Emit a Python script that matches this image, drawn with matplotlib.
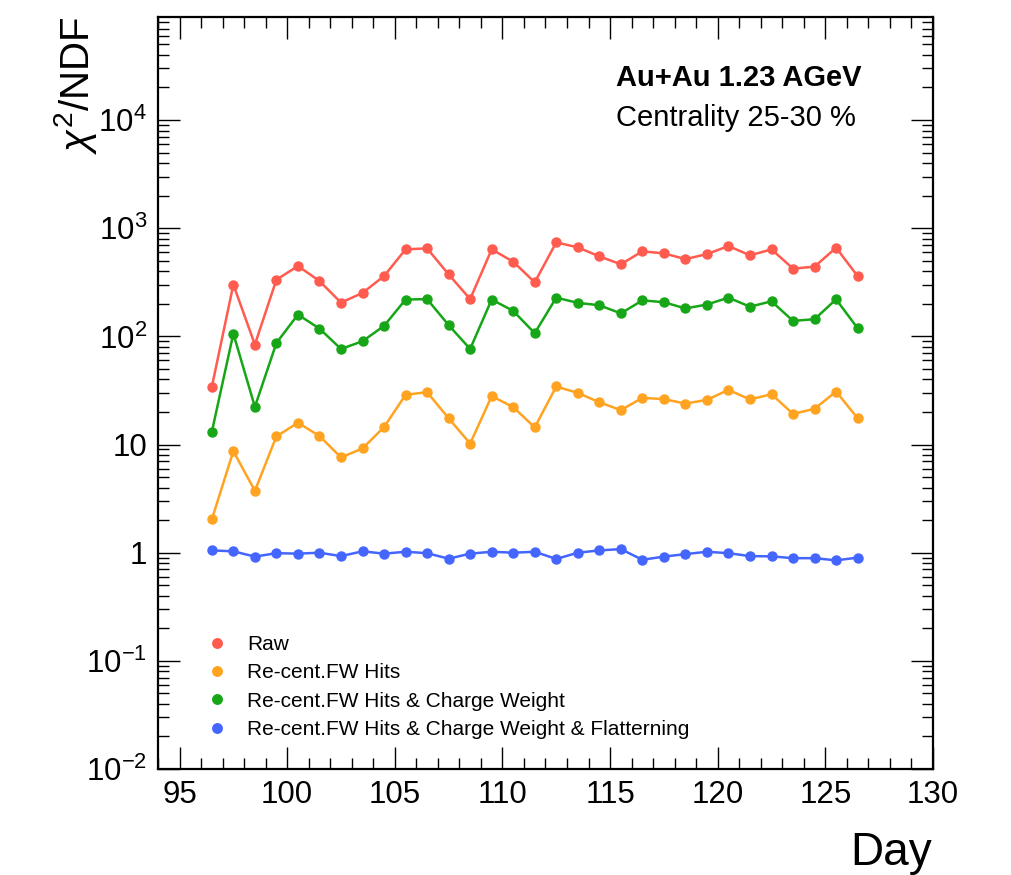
import numpy as np
import matplotlib.pyplot as plt
from matplotlib.ticker import FixedLocator, FixedFormatter, MultipleLocator, LogLocator, NullFormatter

plt.rcParams['font.family'] = ['Liberation Sans', 'DejaVu Sans']
plt.rcParams['mathtext.fontset'] = 'custom'
plt.rcParams['mathtext.rm'] = 'Liberation Sans'
plt.rcParams['mathtext.it'] = 'Liberation Sans:italic'

# days of the run
days = np.arange(96.5, 127.0, 1.0)

raw = [34.1, 301, 84, 334, 447, 325, 205, 252, 361, 637, 651, 374, 221, 637, 490, 316,
       739, 665, 549, 464, 611, 585, 518, 576, 684, 561, 637, 423, 441, 660, 361]
recent = [2.03, 8.69, 3.73, 11.9, 15.9, 12.0, 7.6, 9.2, 14.5, 28.8, 30.5, 17.5, 10.2, 28.0, 22.2, 14.4,
          34.4, 30.0, 24.6, 20.8, 27.0, 26.3, 23.9, 25.9, 32.0, 26.1, 29.2, 19.2, 21.4, 30.9, 17.5]
recent_cw = [13.1, 106, 22.3, 86.9, 159, 118, 76.5, 90.1, 125, 219, 221, 127, 76.5, 219, 172, 107,
             228, 204, 194, 163, 215, 207, 181, 197, 228, 188, 211, 139, 144, 220, 119]
recent_cw_flat = [1.05, 1.03, 0.92, 0.99, 0.98, 1.00, 0.93, 1.03, 0.98, 1.02, 0.99, 0.88, 0.98, 1.02, 1.00, 1.02,
                  0.875, 1.00, 1.05, 1.08, 0.86, 0.92, 0.97, 1.02, 0.99, 0.93, 0.925, 0.89, 0.89, 0.85, 0.90]

labels = ['Raw', 'Re-cent.FW Hits', 'Re-cent.FW Hits & Charge Weight',
          'Re-cent.FW Hits & Charge Weight & Flatterning']
colors = ['#FF5B4F', '#FFA321', '#17A617', '#4466FF']
series = [raw, recent, recent_cw, recent_cw_flat]

yticks = [1e-2, 1e-1, 1, 10, 1e2, 1e3, 1e4]
ytick_labels = ['$10^{-2}$', '$10^{-1}$', '1', '10', '$10^{2}$', '$10^{3}$', '$10^{4}$']

fig = plt.figure(figsize=(10.11, 8.75), dpi=100)
ax = fig.add_axes([0.1563, 0.1211, 0.7665, 0.8591])

for vals, c, lab in zip(series, colors, labels):
    ax.plot(days, vals, '-', color=c, lw=1.8, zorder=2)
    ax.plot(days, vals, 'o', color=c, ms=6.5, zorder=3, label=lab)

ax.set_yscale('log')
ax.set_xlim(94, 130)
ax.set_ylim(1e-2, 8.9e4)

ax.xaxis.set_major_locator(FixedLocator([95, 100, 105, 110, 115, 120, 125, 130]))
ax.xaxis.set_minor_locator(MultipleLocator(1))
ax.yaxis.set_major_locator(FixedLocator(yticks))
ax.yaxis.set_major_formatter(FixedFormatter(ytick_labels))
ax.yaxis.set_minor_locator(LogLocator(base=10, subs=np.arange(2, 10)))
ax.yaxis.set_minor_formatter(NullFormatter())

ax.tick_params(which='both', direction='in', top=True, right=True, width=1.0, colors='black')
ax.tick_params(which='major', length=16, labelsize=22.5, pad=8)
ax.tick_params(which='minor', length=8)
for sp in ax.spines.values():
    sp.set_linewidth(1.6)

leg = ax.legend(loc='upper left', bbox_to_anchor=(0.0516, 0.189), frameon=False,
                fontsize=15, handlelength=1.0, handletextpad=0.96, labelspacing=0.44,
                markerscale=1.05, borderaxespad=0)

fig.text(0.609, 0.9017, 'Au+Au 1.23 AGeV', fontsize=21, fontweight='bold', ha='left', va='baseline')
fig.text(0.609, 0.856, 'Centrality 25-30 %', fontsize=21, ha='left', va='baseline')

fig.text(0.075, 0.981, r'$\chi^{2}$/NDF', fontsize=29, rotation=90, ha='center', va='top')
fig.text(0.9215, 0.0114, 'Day', fontsize=33, ha='right', va='baseline')

fig.savefig('out.png', dpi=100)
